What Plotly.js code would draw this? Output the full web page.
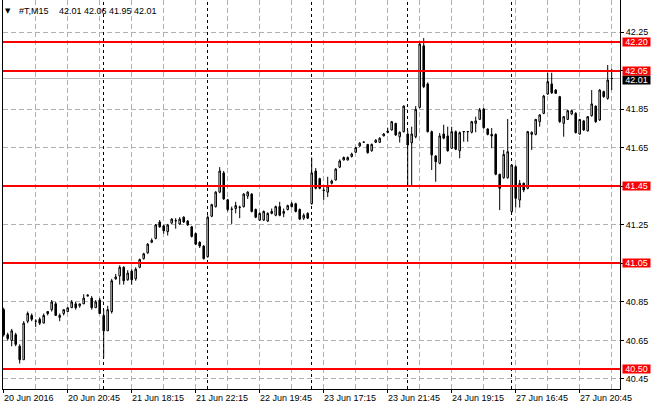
<!DOCTYPE html>
<html><head><meta charset="utf-8">
<script src="https://cdn.plot.ly/plotly-3.0.1.min.js"></script>
<style>html,body{margin:0;padding:0;background:#fff;overflow:hidden}#chart{width:660px;height:410px}
#chart .shapelayer path{shape-rendering:crispEdges}</style>
</head><body><div id="chart"></div>
<script>
const symbol = '#T,M15';
const dayNames = ['20 Jun','21 Jun','22 Jun','23 Jun','24 Jun','27 Jun'];
const barsPerDay = [25,26,26,24,26,26];
const tickIndex = [0,16,32,48,64,80,96,112,128,144];
const tickLabels = ['20 Jun 2016','20 Jun 20:45','21 Jun 18:15','21 Jun 22:15','22 Jun 19:45','23 Jun 17:15','23 Jun 21:45','24 Jun 19:15','27 Jun 16:45','27 Jun 20:45'];
const yTicks = [40.45,40.65,40.85,41.05,41.25,41.45,41.65,41.85,42.05,42.25];
const levels = [42.20,42.05,41.45,41.05,40.50];

const open = [
40.81,40.68,40.65,40.68,40.62,40.55,40.75,40.78,40.75,40.76,
40.74,40.80,40.81,40.84,40.77,40.79,40.80,40.82,40.84,40.83,
40.84,40.88,40.87,40.82,40.86,
40.78,40.70,40.80,40.97,40.985,41.03,40.965,41.01,40.97,41.03,
41.075,41.105,41.16,41.18,41.265,41.245,41.215,41.26,41.27,41.255,
41.29,41.27,41.24,41.205,41.16,41.14,
41.085,41.295,41.345,41.42,41.52,41.38,41.33,41.335,41.34,41.345,
41.40,41.41,41.33,41.275,41.275,41.27,41.32,41.30,41.345,41.31,
41.33,41.36,41.36,41.33,41.285,41.31,
41.36,41.53,41.49,41.428,41.42,41.466,41.483,41.55,41.587,41.587,
41.605,41.627,41.66,41.679,41.668,41.635,41.679,41.679,41.712,41.737,
41.743,41.777,41.708,41.734,
41.722,41.676,41.708,41.86,42.18,41.982,41.734,41.608,41.57,41.722,
41.712,41.648,41.734,41.635,41.733,41.735,41.731,41.777,41.798,41.852,
41.748,41.72,41.72,41.513,41.495,41.495,
41.319,41.552,41.379,41.466,41.44,41.72,41.72,41.786,41.829,41.93,
41.982,41.95,41.916,41.777,41.798,41.826,41.829,41.722,41.79,41.738,
41.817,41.867,41.795,41.942,41.907,42.01];
const high = [
40.82,40.69,40.71,40.69,40.63,40.75,40.80,40.79,40.76,40.77,
40.79,40.80,40.86,40.85,40.79,40.81,40.82,40.86,40.85,40.84,
40.89,40.89,40.88,40.86,40.87,
40.81,40.83,40.97,40.995,41.04,41.035,41.015,41.02,41.03,41.075,
41.105,41.155,41.18,41.255,41.275,41.25,41.255,41.285,41.285,41.29,
41.295,41.275,41.245,41.21,41.165,41.145,
41.30,41.36,41.425,41.55,41.53,41.385,41.345,41.37,41.35,41.415,
41.425,41.415,41.335,41.315,41.325,41.315,41.335,41.35,41.37,41.335,
41.355,41.37,41.365,41.335,41.31,41.315,
41.60,41.545,41.495,41.445,41.50,41.485,41.545,41.59,41.605,41.605,
41.625,41.655,41.68,41.682,41.67,41.672,41.695,41.705,41.727,41.755,
41.79,41.78,41.735,41.87,
41.74,41.76,41.867,42.195,42.22,41.99,41.74,41.612,41.727,41.77,
41.76,41.76,41.74,41.735,41.736,41.737,41.79,41.812,41.857,41.857,
41.752,41.753,41.725,41.515,41.639,41.80,
41.565,41.56,41.483,41.47,41.738,41.735,41.80,41.825,41.925,42.04,
42.04,41.955,41.92,41.815,41.847,41.847,41.835,41.80,41.795,41.815,
41.95,41.87,41.955,41.947,42.08,42.06];
const low = [
40.67,40.65,40.62,40.62,40.53,40.55,40.74,40.75,40.72,40.73,
40.74,40.78,40.80,40.78,40.75,40.78,40.80,40.82,40.81,40.82,
40.84,40.88,40.81,40.82,40.79,
40.56,40.70,40.79,40.965,40.94,40.94,40.96,40.94,40.96,41.025,
41.07,41.10,41.155,41.175,41.235,41.205,41.195,41.255,41.23,41.25,
41.26,41.245,41.185,41.145,41.13,41.07,
41.08,41.29,41.34,41.415,41.38,41.32,41.255,41.31,41.285,41.34,
41.385,41.315,41.285,41.27,41.27,41.265,41.305,41.295,41.295,41.29,
41.325,41.34,41.315,41.275,41.275,41.28,
41.355,41.435,41.435,41.38,41.395,41.46,41.48,41.545,41.585,41.585,
41.60,41.625,41.655,41.677,41.62,41.63,41.675,41.675,41.71,41.725,
41.74,41.712,41.678,41.73,
41.455,41.457,41.70,41.855,41.96,41.73,41.535,41.474,41.565,41.695,
41.63,41.645,41.638,41.596,41.682,41.682,41.725,41.731,41.795,41.75,
41.715,41.648,41.508,41.327,41.49,41.49,
41.31,41.34,41.34,41.42,41.435,41.639,41.715,41.76,41.825,41.925,
41.93,41.93,41.78,41.708,41.795,41.82,41.725,41.718,41.738,41.735,
41.812,41.78,41.79,41.91,41.90,41.95];
const close = [
40.68,40.66,40.70,40.63,40.55,40.74,40.79,40.76,40.75,40.74,
40.78,40.79,40.85,40.78,40.78,40.81,40.82,40.85,40.82,40.84,
40.87,40.885,40.82,40.85,40.79,
40.70,40.81,40.96,40.98,41.03,40.96,41.00,40.965,41.02,41.07,
41.10,41.15,41.17,41.25,41.24,41.22,41.25,41.28,41.272,41.28,
41.265,41.25,41.19,41.15,41.14,41.075,
41.29,41.355,41.42,41.53,41.385,41.33,41.332,41.35,41.342,41.41,
41.42,41.32,41.29,41.31,41.32,41.31,41.31,41.345,41.30,41.32,
41.35,41.345,41.32,41.28,41.30,41.285,
41.52,41.44,41.44,41.43,41.452,41.478,41.54,41.582,41.60,41.60,
41.618,41.651,41.674,41.68,41.625,41.668,41.69,41.70,41.722,41.731,
41.786,41.717,41.731,41.867,
41.665,41.722,41.85,42.189,41.967,41.734,41.613,41.578,41.712,41.70,
41.635,41.734,41.643,41.729,41.735,41.734,41.786,41.79,41.847,41.755,
41.72,41.712,41.513,41.44,41.616,41.63,
41.561,41.388,41.466,41.431,41.734,41.731,41.798,41.821,41.919,41.994,
41.936,41.933,41.786,41.812,41.843,41.843,41.729,41.798,41.743,41.812,
41.878,41.786,41.95,41.916,42.002,42.01];

const n = open.length;
const xIdx = open.map((_, i) => i);
const last = n - 1;
const fmt = v => v.toFixed(2);
const FONT = 'Liberation Sans, Arial, sans-serif';
const GRID = '#b0b0b0';

const trace = {
  type: 'candlestick', x: xIdx, open: open, high: high, low: low, close: close,
  increasing: {line: {color: '#000', width: 1}, fillcolor: '#fff'},
  decreasing: {line: {color: '#000', width: 1}, fillcolor: '#000'},
  whiskerwidth: 0, hoverinfo: 'skip', showlegend: false
};

const shapes = [];
// dashed grid
yTicks.forEach(v => shapes.push({type: 'line', xref: 'paper', yref: 'y', x0: 0, x1: 1, y0: v, y1: v,
  line: {color: GRID, width: 1, dash: '5px,3px'}, layer: 'below'}));
for (let i = 8; i < n; i += 8) {
  shapes.push({type: 'line', xref: 'x', yref: 'paper', x0: i, x1: i, y0: 0, y1: 1,
    line: {color: GRID, width: 1, dash: '5px,3px'}, layer: 'below'});
}
// day separators
let acc = 0;
for (let d = 0; d < barsPerDay.length - 1; d++) {
  acc += barsPerDay[d];
  shapes.push({type: 'line', xref: 'x', yref: 'paper', x0: acc, x1: acc, y0: 0, y1: 1,
    line: {color: '#000', width: 1, dash: '3px,3px'}, layer: 'below'});
}
// current price line
shapes.push({type: 'line', xref: 'paper', yref: 'y', x0: 0, x1: 1, y0: close[last], y1: close[last],
  line: {color: '#b8b8b8', width: 1}, layer: 'below'});
// horizontal levels
levels.forEach(v => shapes.push({type: 'line', xref: 'paper', yref: 'y', x0: 0, x1: 1, y0: v, y1: v,
  line: {color: '#ff0000', width: 2}, layer: 'above'}));

const annotations = [];
tickLabels.forEach((t, k) => annotations.push({
  xref: 'x', yref: 'paper', x: tickIndex[k], y: 0, xanchor: 'left', yanchor: 'top',
  text: t, showarrow: false, font: {family: FONT, size: 9, color: '#000'}, borderpad: 0, xshift: -1, yshift: -3
}));
annotations.push({xref: 'paper', yref: 'y', x: 1, y: close[last], xanchor: 'left', yanchor: 'middle',
  text: fmt(close[last]), showarrow: false, bgcolor: '#000', font: {family: FONT, size: 9, color: '#fff'},
  borderpad: 0, width: 27, height: 8, xshift: 2, yshift: -1});
levels.forEach(v => annotations.push({xref: 'paper', yref: 'y', x: 1, y: v, xanchor: 'left', yanchor: 'middle',
  text: fmt(v), showarrow: false, bgcolor: '#ff0000', font: {family: FONT, size: 9, color: '#fff'},
  borderpad: 0, width: 27, height: 8, xshift: 2}));
annotations.push({xref: 'paper', yref: 'paper', x: 0, y: 1, xanchor: 'center', yanchor: 'middle',
  text: '▼', showarrow: false, font: {family: 'DejaVu Sans', size: 7, color: '#000'}, borderpad: 0, xshift: 5, yshift: -10.5});
annotations.push({xref: 'paper', yref: 'paper', x: 0, y: 1, xanchor: 'left', yanchor: 'middle',
  text: symbol, showarrow: false, font: {family: FONT, size: 9, color: '#000'}, borderpad: 0, xshift: 15, yshift: -10.5});
annotations.push({xref: 'paper', yref: 'paper', x: 0, y: 1, xanchor: 'left', yanchor: 'middle',
  text: [open[last], high[last], low[last], close[last]].map(fmt).join(' '), showarrow: false,
  font: {family: FONT, size: 9, color: '#000'}, borderpad: 0, xshift: 55, yshift: -10.5});

const yTickText = yTicks.map(v => levels.some(l => Math.abs(l - v) < 0.03) ? '' : fmt(v));

const layout = {
  width: 660, height: 410,
  margin: {l: 3, r: 40, t: 0, b: 21, pad: 0},
  paper_bgcolor: '#fff', plot_bgcolor: '#fff',
  showlegend: false, boxgap: 0.45, hovermode: false,
  font: {family: FONT, size: 9, color: '#000'},
  xaxis: {
    range: [-0.175, 154.075], rangeslider: {visible: false}, fixedrange: true,
    tickmode: 'array', tickvals: tickIndex, showticklabels: false,
    ticks: 'outside', ticklen: 3, tickcolor: '#000', tickwidth: 1,
    showline: true, linecolor: '#000', linewidth: 1, zeroline: false, showgrid: false
  },
  yaxis: {
    side: 'right', range: [40.398, 42.4177], fixedrange: true,
    tickmode: 'array', tickvals: yTicks, ticktext: yTickText,
    ticks: 'outside', ticklen: 3, tickcolor: '#000', tickwidth: 1,
    tickfont: {family: FONT, size: 9, color: '#000'},
    showline: true, mirror: true, linecolor: '#000', linewidth: 1, zeroline: false, showgrid: false
  },
  shapes: shapes, annotations: annotations
};

Plotly.newPlot('chart', [trace], layout, {displayModeBar: false, staticPlot: true});
</script></body></html>
